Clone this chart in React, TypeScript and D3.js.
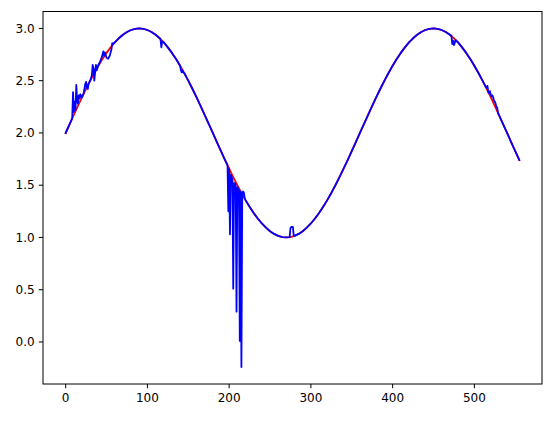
import React from "react";
import * as d3 from "d3";

// Sample positions (degrees) for the smooth red reference curve
const sampleX: number[] = d3.range(0, 556, 5);
// Red series values read at every 5 units
const redValues: number[] = [
  2.000, 2.087, 2.174, 2.259, 2.342, 2.423, 2.500, 2.574, 2.643, 2.707, 2.766, 2.819, 2.866, 2.906, 2.940, 2.966, 2.985, 2.996, 3.000,
  2.996, 2.985, 2.966, 2.940, 2.906, 2.866, 2.819, 2.766, 2.707, 2.643, 2.574, 2.500, 2.423, 2.342, 2.259, 2.174, 2.087, 2.000,
  1.913, 1.826, 1.741, 1.658, 1.577, 1.500, 1.426, 1.357, 1.293, 1.234, 1.181, 1.134, 1.094, 1.060, 1.034, 1.015, 1.004, 1.000,
  1.004, 1.015, 1.034, 1.060, 1.094, 1.134, 1.181, 1.234, 1.293, 1.357, 1.426, 1.500, 1.577, 1.658, 1.741, 1.826, 1.913, 2.000,
  2.087, 2.174, 2.259, 2.342, 2.423, 2.500, 2.574, 2.643, 2.707, 2.766, 2.819, 2.866, 2.906, 2.940, 2.966, 2.985, 2.996, 3.000,
  2.996, 2.985, 2.966, 2.940, 2.906, 2.866, 2.819, 2.766, 2.707, 2.643, 2.574, 2.500, 2.423, 2.342, 2.259, 2.174, 2.087, 2.000,
  1.913, 1.826, 1.741,
];

// Blue series: noisy stretches [x, y]; elsewhere it follows the red samples
const blueNoiseA: [number, number][] = [
  [8, 2.14], [9, 2.39], [10, 2.2], [11, 2.3], [12, 2.22], [13, 2.46], [14, 2.3], [15, 2.28], [16, 2.36], [17, 2.33],
  [18, 2.37], [19, 2.35], [20, 2.34], [22, 2.38], [24, 2.47], [25, 2.49], [26, 2.43], [27, 2.42], [28, 2.47], [30, 2.5],
  [32, 2.55], [33, 2.65], [34, 2.62], [35, 2.5], [36, 2.58], [37, 2.65], [38, 2.6], [40, 2.65], [42, 2.68], [44, 2.72],
  [46, 2.78], [47, 2.74], [48, 2.77], [50, 2.72], [52, 2.71], [54, 2.74], [56, 2.8], [57, 2.86], [58, 2.85], [60, 2.866],
];
const blueNoiseB: [number, number][] = [
  [116, 2.899], [117, 2.82], [118, 2.87], [119, 2.875],
];
const blueNoiseC: [number, number][] = [
  [140, 2.643], [141, 2.6], [142, 2.58], [143, 2.6], [144, 2.58], [145, 2.574],
];
const blueNoiseD: [number, number][] = [
  [198, 1.69], [199, 1.25], [200, 1.66], [201, 1.03], [202, 1.6], [203, 1.58], [204, 1.55], [205, 0.51], [206, 1.52],
  [207, 1.52], [208, 1.5], [209, 0.29], [210, 1.48], [211, 1.47], [212, 1.45], [213, 0.01], [214, 1.44], [215, -0.24],
  [216, 1.42], [217, 1.44], [218, 1.43], [219, 1.38], [220, 1.357],
];
const blueNoiseE: [number, number][] = [
  [274, 1.003], [275, 1.09], [276, 1.1], [277, 1.1], [278, 1.1], [279, 1.02], [280, 1.015],
];
const blueNoiseF: [number, number][] = [
  [472, 2.927], [473, 2.85], [474, 2.88], [475, 2.84], [476, 2.86], [477, 2.891],
];
const blueNoiseG: [number, number][] = [
  [513, 2.455], [514, 2.44], [515, 2.43], [516, 2.45], [517, 2.39], [518, 2.38], [519, 2.4], [520, 2.37], [521, 2.35],
  [522, 2.36], [523, 2.34], [524, 2.31], [525, 2.3], [526, 2.28], [527, 2.25], [528, 2.24], [529, 2.19], [530, 2.174],
];
const blueNoise = [blueNoiseA, blueNoiseB, blueNoiseC, blueNoiseD, blueNoiseE, blueNoiseF, blueNoiseG];

const xTicks = [0, 100, 200, 300, 400, 500];
const yTicks = [0.0, 0.5, 1.0, 1.5, 2.0, 2.5, 3.0];

const W = 555;
const H = 424;
const left = 43;
const right = 542;
const top = 11.5;
const bottom = 384;

export default function App() {
  const red: [number, number][] = sampleX.map((x, i) => [x, redValues[i]]);
  const bluePts: [number, number][] = [];
  red.forEach(([x, y]) => {
    const covered = blueNoise.some((g) => x >= g[0][0] && x <= g[g.length - 1][0]);
    if (!covered) bluePts.push([x, y]);
  });
  blueNoise.forEach((g) => g.forEach((p) => bluePts.push(p)));
  bluePts.sort((a, b) => a[0] - b[0]);

  const xMin = 0, xMax = 555;
  const xPad = (xMax - xMin) * 0.05;
  const allY = bluePts.map((p) => p[1]).concat(redValues);
  const yMin = d3.min(allY)!, yMax = d3.max(allY)!;
  const yPad = (yMax - yMin) * 0.05;

  const xs = d3.scaleLinear().domain([xMin - xPad, xMax + xPad]).range([left, right]);
  const ys = d3.scaleLinear().domain([yMin - yPad, yMax + yPad]).range([bottom, top]);
  const line = d3.line<[number, number]>().x((d) => xs(d[0])).y((d) => ys(d[1]));

  const font = "DejaVu Sans, sans-serif";
  return (
    <svg width={W} height={H} style={{ position: "absolute", left: 0, top: 0, background: "#fff" }}>
      <rect x={0} y={0} width={W} height={H} fill="#fff" />
      <defs>
        <clipPath id="plotclip">
          <rect x={left} y={top} width={right - left} height={bottom - top} />
        </clipPath>
      </defs>
      <g clipPath="url(#plotclip)">
        <path d={line(red) || ""} fill="none" stroke="#ff0000" strokeWidth={1.8} strokeLinejoin="round" strokeLinecap="square" />
        <path d={line(bluePts) || ""} fill="none" stroke="#0000ff" strokeWidth={1.8} strokeLinejoin="round" strokeLinecap="square" />
      </g>
      <rect x={left} y={top} width={right - left} height={bottom - top} fill="none" stroke="#000" strokeWidth={1} />
      {xTicks.map((t) => (
        <g key={"x" + t}>
          <line x1={xs(t)} x2={xs(t)} y1={bottom} y2={bottom + 4.2} stroke="#000" strokeWidth={1} />
          <text x={xs(t)} y={bottom + 8.4} dy="0.76em" textAnchor="middle" fontFamily={font} fontSize={12} fill="#000">
            {t}
          </text>
        </g>
      ))}
      {yTicks.map((t) => (
        <g key={"y" + t}>
          <line x1={left - 4.2} x2={left} y1={ys(t)} y2={ys(t)} stroke="#000" strokeWidth={1} />
          <text x={left - 8.4} y={ys(t)} dy="0.35em" textAnchor="end" fontFamily={font} fontSize={12} fill="#000">
            {t.toFixed(1)}
          </text>
        </g>
      ))}
    </svg>
  );
}
